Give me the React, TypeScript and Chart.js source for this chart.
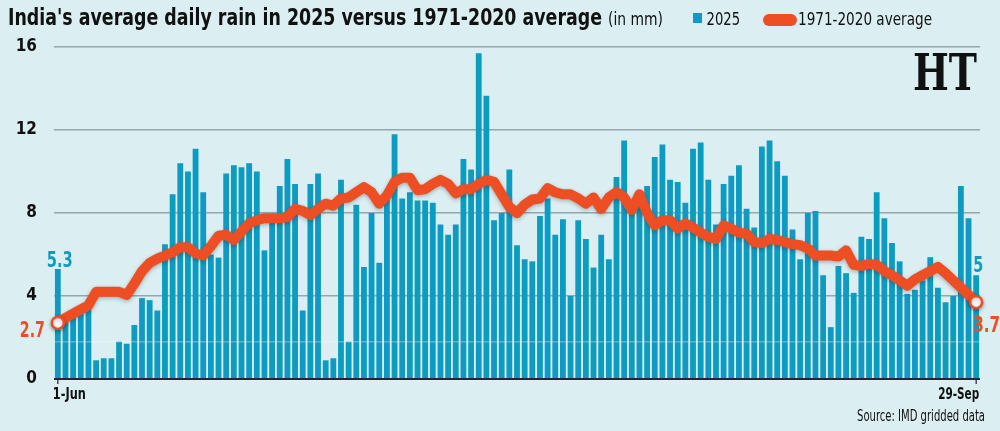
import React, { useEffect, useRef } from 'react';
import { Chart, registerables } from 'chart.js';

Chart.register(...registerables);

// ---- Data ----
const months: [string, number][] = [['Jun', 30], ['Jul', 31], ['Aug', 31], ['Sep', 29]];
const dayLabels: string[] = [];
for (const [m, n] of months) for (let d = 1; d <= n; d++) dayLabels.push(`${d}-${m}`);

const xTickLabels = ['1-Jun', '29-Sep'];

const rain2025: number[] = [
  5.3, 3.0, 3.1, 3.3, 3.5, 0.9, 1.0, 1.0, 1.8, 1.7,
  2.6, 3.9, 3.8, 3.3, 6.5, 8.9, 10.4, 10.0, 11.1, 9.0,
  6.0, 5.85, 9.9, 10.3, 10.2, 10.4, 10.0, 6.2, 7.7, 9.3,
  10.6, 9.4, 3.3, 9.4, 9.9, 0.9, 1.0, 9.6, 1.8, 8.4,
  5.4, 8.0, 5.6, 9.0, 11.8, 8.7, 9.0, 8.6, 8.6, 8.5,
  7.45, 6.95, 7.45, 10.6, 10.1, 15.7, 13.65, 7.65, 8.0, 10.1,
  6.45, 5.77, 5.67, 7.85, 8.7, 6.95, 7.7, 4.0, 7.65, 6.75,
  5.37, 6.95, 5.77, 9.73, 11.5, 8.2, 8.5, 9.3, 10.7, 11.3,
  9.6, 9.5, 8.5, 11.1, 11.4, 9.6, 7.45, 9.4, 9.8, 10.3,
  8.2, 7.3, 11.2, 11.5, 10.5, 9.8, 7.2, 5.77, 8.0, 8.1,
  5.0, 2.5, 5.45, 5.1, 4.15, 6.85, 6.75, 9.0, 7.75, 6.55,
  5.67, 4.1, 4.3, 4.75, 5.87, 4.4, 3.7, 4.0, 9.3, 7.75,
  5.0,
];

const avg1971_2020: number[] = [
  2.7, 2.95, 3.15, 3.35, 3.55, 4.2, 4.2, 4.2, 4.2, 4.05,
  4.6, 5.2, 5.6, 5.8, 5.95, 6.1, 6.35, 6.35, 6.05, 5.95,
  6.4, 6.9, 6.95, 6.7, 7.1, 7.5, 7.65, 7.75, 7.75, 7.75,
  7.8, 8.2, 8.1, 7.9, 8.2, 8.45, 8.35, 8.7, 8.75, 9.0,
  9.25, 9.0, 8.45, 8.85, 9.5, 9.7, 9.7, 9.1, 9.15, 9.4,
  9.6, 9.4, 8.95, 9.15, 9.15, 9.4, 9.6, 9.5, 8.9, 8.3,
  8.0, 8.4, 8.65, 8.7, 9.2, 9.0, 8.9, 8.9, 8.7, 8.45,
  8.75, 8.2, 8.75, 9.0, 8.75, 8.15, 8.9, 8.0, 7.4, 7.65,
  7.65, 7.25, 7.5, 7.3, 7.05, 6.85, 6.75, 7.4, 7.25, 7.05,
  7.0, 6.6, 6.55, 6.75, 6.7, 6.6, 6.5, 6.45, 6.3, 5.95,
  5.95, 5.95, 5.9, 6.2, 5.5, 5.45, 5.55, 5.5, 5.2, 5.0,
  4.75, 4.5, 4.8, 5.0, 5.2, 5.4, 5.1, 4.75, 4.4, 4.05,
  3.7,
];

const TITLE = "India's average daily rain in 2025 versus 1971-2020 average";
const UNIT = '(in mm)';
const SERIES_BAR = '2025';
const SERIES_LINE = '1971-2020 average';
const SOURCE = 'Source: IMD gridded data';

// ---- Styles ----
const BG = '#dbeff2';
const BAR = '#0e9bc1';
const LINE = '#ee4e24';
const FONT = "'Liberation Sans Narrow', 'DejaVu Sans Condensed', Roboto, sans-serif";

function fitText(
  ctx: CanvasRenderingContext2D, text: string, x: number, y: number,
  font: string, width: number, color: string, align: 'left' | 'right' | 'center' = 'left'
) {
  ctx.save();
  ctx.font = font;
  ctx.fillStyle = color;
  ctx.textAlign = 'left';
  ctx.textBaseline = 'alphabetic';
  const w = ctx.measureText(text).width;
  const s = width / w;
  const x0 = align === 'left' ? x : align === 'right' ? x - width : x - width / 2;
  ctx.translate(x0, y);
  ctx.scale(s, 1);
  ctx.fillText(text, 0, 0);
  ctx.restore();
}

const decorPlugin = {
  id: 'decor',
  beforeDraw(chart: any) {
    const { ctx, width, height } = chart;
    ctx.save();
    ctx.fillStyle = BG;
    ctx.fillRect(0, 0, width, height);
    ctx.restore();
  },
  beforeDatasetDraw(chart: any, args: any) {
    if (args.index === 1) {
      const ctx = chart.ctx;
      ctx.save();
      ctx.shadowColor = 'rgba(0,0,0,0.28)';
      ctx.shadowBlur = 4;
      ctx.shadowOffsetY = 1.5;
    }
  },
  afterDatasetDraw(chart: any, args: any) {
    const ctx = chart.ctx;
    if (args.index === 1) {
      ctx.restore();
    } else if (args.index === 0) {
      const y = chart.scales.y.getPixelForValue(1.8);
      ctx.save();
      ctx.strokeStyle = 'rgba(255,255,255,0.28)';
      ctx.lineWidth = 1.5;
      ctx.beginPath();
      ctx.moveTo(chart.chartArea.left, y);
      ctx.lineTo(chart.chartArea.right, y);
      ctx.stroke();
      ctx.restore();
    }
  },
  afterDraw(chart: any) {
    const { ctx } = chart;
    const xs = chart.scales.x;
    const ys = chart.scales.y;

    // Title
    fitText(ctx, TITLE, 8, 25, `bold 23px ${FONT}`, 594, '#111');
    fitText(ctx, UNIT, 608, 25, `17px ${FONT}`, 55, '#111');

    // Legend
    ctx.save();
    ctx.fillStyle = BAR;
    ctx.fillRect(693, 13, 9, 10);
    ctx.restore();
    fitText(ctx, SERIES_BAR, 706.5, 25, `18px ${FONT}`, 33.5, '#111');
    ctx.save();
    ctx.fillStyle = LINE;
    ctx.beginPath();
    (ctx as any).roundRect(763, 14, 34, 12, 6);
    ctx.fill();
    ctx.restore();
    fitText(ctx, SERIES_LINE, 798, 25, `18px ${FONT}`, 134, '#111');

    // HT mark
    fitText(ctx, 'HT', 913, 90, `bold 50px 'DejaVu Serif', 'Liberation Serif', serif`, 64, '#111');

    // X ticks and labels
    const first = 0;
    const last = dayLabels.length - 1;
    const x0 = xs.getPixelForValue(first);
    const x1 = xs.getPixelForValue(last);
    const base = ys.getPixelForValue(0);
    ctx.save();
    ctx.strokeStyle = '#1d2a30';
    ctx.lineWidth = 1.2;
    ctx.beginPath();
    ctx.moveTo(x0, base);
    ctx.lineTo(x0, base + 5);
    ctx.moveTo(x1, base);
    ctx.lineTo(x1, base + 5);
    ctx.stroke();
    ctx.restore();
    fitText(ctx, xTickLabels[0], x0 - 5, 399, `bold 16px ${FONT}`, 33, '#111', 'left');
    fitText(ctx, xTickLabels[1], x1 + 3, 399, `bold 16px ${FONT}`, 41, '#111', 'right');

    // Source
    fitText(ctx, SOURCE, 985, 421, `15px ${FONT}`, 128, '#111', 'right');

    // Value labels
    const bTop0 = ys.getPixelForValue(rain2025[first]);
    const bTop1 = ys.getPixelForValue(rain2025[last]);
    const lY0 = ys.getPixelForValue(avg1971_2020[first]);
    const lY1 = ys.getPixelForValue(avg1971_2020[last]);
    fitText(ctx, String(rain2025[first]), x0 + 2, bTop0 - 2, `bold 21px ${FONT}`, 26, BAR, 'center');
    fitText(ctx, String(rain2025[last]), x1 - 3, bTop1 - 3, `bold 21px ${FONT}`, 10, BAR, 'left');
    fitText(ctx, String(avg1971_2020[first]), x0 - 13, lY0 + 14, `bold 21px ${FONT}`, 25, LINE, 'right');
    fitText(ctx, String(avg1971_2020[last]), x1 - 3, lY1 + 30, `bold 21px ${FONT}`, 27, LINE, 'left');
  },
};

export default function App() {
  const ref = useRef<HTMLCanvasElement | null>(null);

  useEffect(() => {
    document.body.style.margin = '0';
    document.body.style.background = BG;
    const canvas = ref.current;
    if (!canvas) return;
    const last = dayLabels.length - 1;
    const chart = new Chart(canvas, {
      type: 'bar',
      data: {
        labels: dayLabels,
        datasets: [
          {
            type: 'bar',
            label: SERIES_BAR,
            data: rain2025,
            backgroundColor: BAR,
            borderWidth: 0,
            barPercentage: 0.76,
            categoryPercentage: 1,
            order: 2,
          },
          {
            type: 'line',
            label: SERIES_LINE,
            data: avg1971_2020,
            borderColor: LINE,
            borderWidth: 10,
            tension: 0,
            borderJoinStyle: 'round',
            borderCapStyle: 'round',
            pointRadius: avg1971_2020.map((_, i) => (i === 0 || i === last ? 6 : 0)),
            pointBackgroundColor: '#ffffff',
            pointBorderColor: LINE,
            pointBorderWidth: 2.5,
            order: 1,
          } as any,
        ],
      },
      options: {
        animation: false,
        responsive: false,
        devicePixelRatio: 1,
        events: [],
        layout: { padding: { top: 47, bottom: 52, left: 0, right: 20 } },
        plugins: {
          legend: { display: false },
          tooltip: { enabled: false },
          title: { display: false },
        },
        scales: {
          x: {
            display: false,
            offset: true,
          },
          y: {
            min: 0,
            max: 16,
            ticks: {
              stepSize: 4,
              padding: 17,
              color: '#111',
              font: { family: FONT, weight: 'bold', size: 17 },
            },
            grid: {
              drawTicks: false,
              color: (c: any) => (c.tick && c.tick.value === 0 ? '#1d2a30' : '#93a8ac'),
              lineWidth: (c: any) => (c.tick && c.tick.value === 0 ? 2 : 1.6),
            },
            border: { display: false },
            afterFit: (s: any) => {
              s.width = 54;
            },
          } as any,
        },
      },
      plugins: [decorPlugin],
    });
    return () => chart.destroy();
  }, []);

  return (
    <div style={{ position: 'absolute', left: 0, top: 0, width: 1000, height: 431, background: BG }}>
      <canvas ref={ref} width={1000} height={431} style={{ display: 'block', width: 1000, height: 431 }} />
    </div>
  );
}
